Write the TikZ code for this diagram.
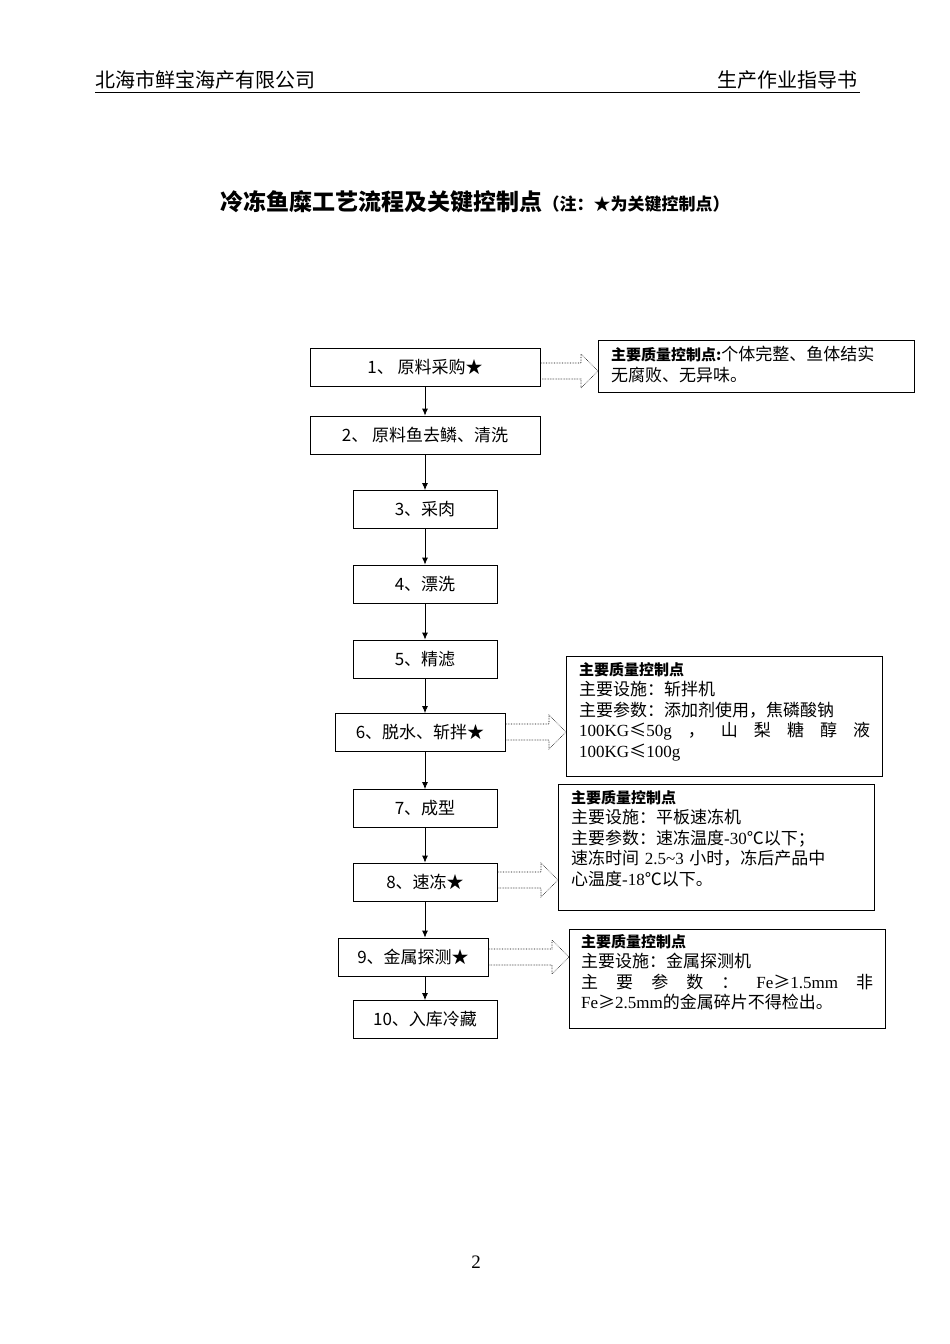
\documentclass[tikz,border=0pt]{standalone}
\usepackage{fontspec}
\setmainfont{Liberation Serif}
\newfontfamily\cjk{Noto Sans CJK SC}
\XeTeXlinebreaklocale "zh"
\XeTeXlinebreakskip=0pt plus 1pt
\usetikzlibrary{arrows.meta,calc}
\tikzset{
 stepbox/.style={draw,line width=0.8pt,minimum height=38pt,font=\cjk\fontsize{17}{19}\selectfont,inner sep=0pt},
 sidebox/.style={draw,line width=0.8pt,anchor=north west,inner sep=0pt},
 flow/.style={-{Latex[length=7pt,width=6pt]},line width=0.8pt},
 blk/.style={draw,densely dotted,line width=0.6pt},
 sidetxt/.style={anchor=north west,align=left,font=\fontsize{17}{20.5}\selectfont,inner sep=0pt}
}
\newcommand{\hd}[1]{{\cjk\bfseries\fontsize{15}{20}\selectfont #1}}
\begin{document}
\begin{tikzpicture}[x=1pt,y=-1pt]
\useasboundingbox (0,0) rectangle (950,1344);
% header
\node[anchor=south west,font=\cjk\fontsize{20}{22}\selectfont,inner sep=0pt] (hl) at (95,89) {北海市鲜宝海产有限公司};
\node[anchor=south east,font=\cjk\fontsize{20}{22}\selectfont,inner sep=0pt] (hr) at (858,89) {生产作业指导书};
\draw[line width=0.8pt] (95,92) -- (860,92);
\node[font=\cjk\bfseries,inner sep=0pt] (title) at (475,202) {{\fontsize{23}{26}\selectfont 冷冻鱼糜工艺流程及关键控制点}{\fontsize{17}{20}\selectfont（注：★为关键控制点）}};
% steps
\node[stepbox,minimum width=230pt] (s1) at (425,367) {1、 原料采购★};
\node[stepbox,minimum width=230pt] (s2) at (425,435) {2、 原料鱼去鳞、清洗};
\node[stepbox,minimum width=144pt] (s3) at (425,509.5) {3、采肉};
\node[stepbox,minimum width=144pt] (s4) at (425,584) {4、漂洗};
\node[stepbox,minimum width=144pt] (s5) at (425,659) {5、精滤};
\node[stepbox,minimum width=170pt] (s6) at (420,732.5) {6、脱水、斩拌★};
\node[stepbox,minimum width=144pt] (s7) at (425,808.5) {7、成型};
\node[stepbox,minimum width=144pt] (s8) at (425,882) {8、速冻★};
\node[stepbox,minimum width=150pt] (s9) at (413,957) {9、金属探测★};
\node[stepbox,minimum width=144pt] (s10) at (425,1019.5) {10、入库冷藏};
\foreach \a/\b in {s1/s2,s2/s3,s3/s4,s4/s5,s5/s6,s6/s7,s7/s8,s8/s9,s9/s10}
  \draw[flow] (\a.south -| s3.south) -- (\b.north -| s3.south);
% side boxes
\node[sidebox,minimum width=316pt,minimum height=52pt] (c1) at (598,340) {};
\node[sidetxt,text width=292pt] (t1) at (611,346) {\hd{主要质量控制点:}{\cjk 个体完整、鱼体结实}\\{\cjk 无腐败、无异味。}};
\node[sidebox,minimum width=316pt,minimum height=120pt] (c2) at (566,656) {};
\node[sidetxt,text width=291pt] (t2) at (579,662) {\hd{主要质量控制点}\\{\cjk 主要设施：斩拌机}\\{\cjk 主要参数：添加剂使用，焦磷酸钠}\\100KG{\cjk ≤}50g\hfill{\cjk ，}\hfill{\cjk 山}\hfill{\cjk 梨}\hfill{\cjk 糖}\hfill{\cjk 醇}\hfill{\cjk 液}\\100KG{\cjk ≤}100g};
\node[sidebox,minimum width=316pt,minimum height=126pt] (c3) at (558,784) {};
\node[sidetxt,text width=295pt] (t3) at (571,790) {\hd{主要质量控制点}\\{\cjk 主要设施：平板速冻机}\\{\cjk 主要参数：速冻温度}-30{\cjk ℃以下；}\\{\cjk 速冻时间} 2.5\textasciitilde 3 {\cjk 小时，冻后产品中}\\{\cjk 心温度}-18{\cjk ℃以下。}};
\node[sidebox,minimum width=316pt,minimum height=99pt] (c4) at (569,929) {};
\node[sidetxt,text width=292pt] (t4) at (581,934) {\hd{主要质量控制点}\\{\cjk 主要设施：金属探测机}\\{\cjk 主}\hfill{\cjk 要}\hfill{\cjk 参}\hfill{\cjk 数}\hfill{\cjk ：}\hfill Fe{\cjk ≥}1.5mm\hfill{\cjk 非}\\Fe{\cjk ≥}2.5mm{\cjk 的金属碎片不得检出。}};
% block arrows
\foreach \s/\c/\yy in {s1/c1/371, s6/c2/732, s8/c3/880, s9/c4/957}{
  \coordinate (a0) at (\s.east |- 0,\yy);
  \coordinate (a1) at (\c.west |- 0,\yy);
  \draw[blk] ($(a0)+(1,-8)$) -- ($(a1)+(-17,-8)$) -- ($(a1)+(-17,-17)$) -- (a1) -- ($(a1)+(-17,17)$) -- ($(a1)+(-17,8)$) -- ($(a0)+(1,8)$);
}
\node[font=\fontsize{19}{21}\selectfont] (pg) at (476,1262) {2};
\end{tikzpicture}
\end{document}
